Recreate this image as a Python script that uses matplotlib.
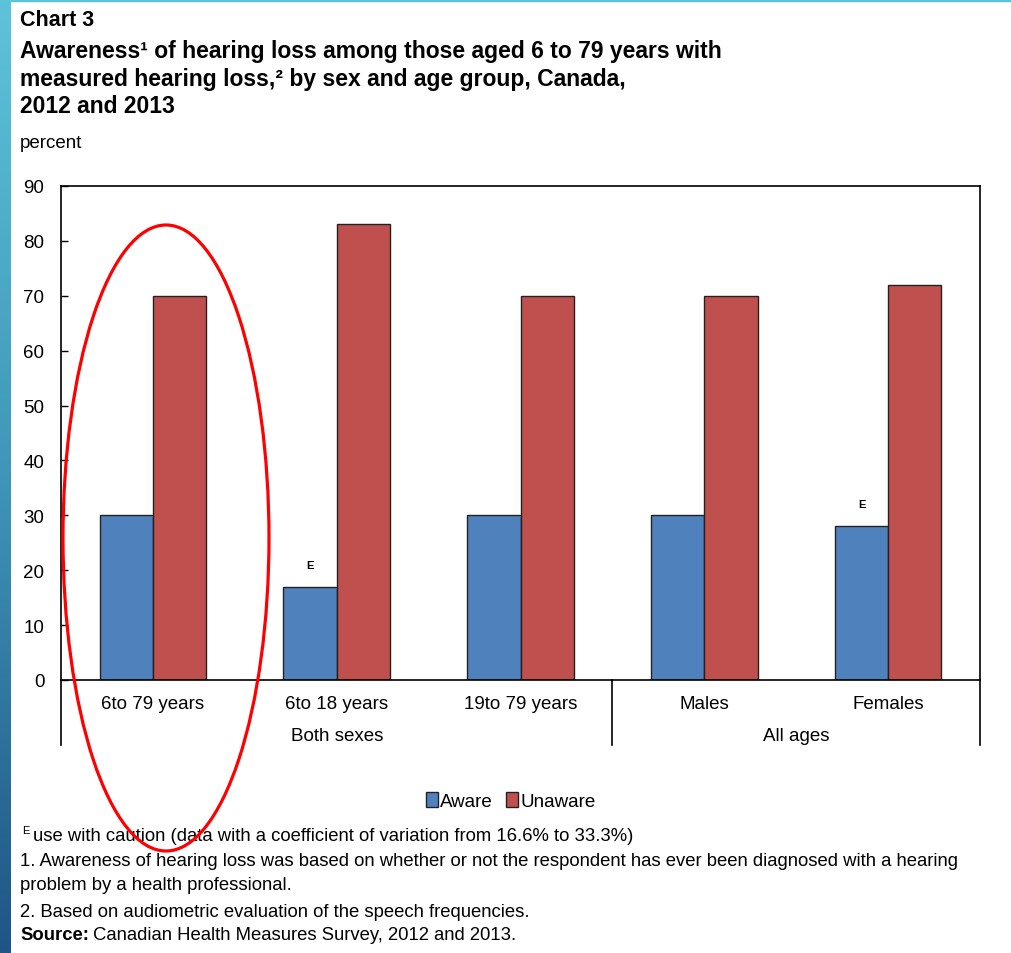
import numpy as np
import matplotlib
matplotlib.use("Agg")
import matplotlib.pyplot as plt
from matplotlib.patches import Ellipse, Patch
from matplotlib.colors import LinearSegmentedColormap

plt.rcParams['font.family'] = ['Liberation Sans', 'DejaVu Sans']

categories = ["6to 79 years", "6to 18 years", "19to 79 years", "Males", "Females"]
groups = ["Both sexes", "All ages"]
aware = [30, 17, 30, 30, 28]
unaware = [70, 83, 70, 70, 72]
flag_e = [False, True, False, False, True]
yticks = [0, 10, 20, 30, 40, 50, 60, 70, 80, 90]

blue = "#4F81BD"
red = "#C0504D"

W, H = 1011, 954
fig = plt.figure(figsize=(W / 100, H / 100), dpi=100)

# slide border strip on the left and top
strip = fig.add_axes([0, 0, 11 / W, 1])
grad = np.linspace(0, 1, 256).reshape(-1, 1)
cm = LinearSegmentedColormap.from_list("edge", ["#5CC4DA", "#3E96B8", "#1F5584"])
strip.imshow(grad, aspect="auto", cmap=cm)
strip.axis("off")
fig.patches.append(plt.Rectangle((0, 1 - 2 / H), 1, 2 / H, transform=fig.transFigure,
                                 color="#5CC4DA", zorder=0))

# titles
fig.text(20 / W, 1 - 20 / H, "Chart 3", fontsize=15.5, fontweight="bold", va="center")
title = ("Awareness\u00b9 of hearing loss among those aged 6 to 79 years with\n"
         "measured hearing loss,\u00b2 by sex and age group, Canada,\n"
         "2012 and 2013")
fig.text(20 / W, 1 - 40 / H, title, fontsize=16.5, fontweight="bold", va="top", linespacing=1.26)
fig.text(20 / W, 1 - 143 / H, "percent", fontsize=13.5, va="center")

ax = fig.add_axes([61 / W, 1 - 681 / H, 919 / W, 494 / H])
x = np.arange(len(categories))
bw = 0.29
ax.bar(x - bw / 2, aware, bw, color=blue, edgecolor="#222222", linewidth=1, label="Aware")
ax.bar(x + bw / 2, unaware, bw, color=red, edgecolor="#222222", linewidth=1, label="Unaware")

for i, f in enumerate(flag_e):
    if f:
        ax.text(x[i] - bw / 2, aware[i] + 4, "E", fontsize=8, fontweight="bold",
                ha="center", va="center")

ax.set_xlim(-0.5, len(categories) - 0.5)
ax.set_ylim(0, 90)
ax.set_yticks(yticks)
ax.tick_params(axis="y", direction="in", length=5, width=1, labelsize=13.5, pad=12)
ax.set_xticks(x)
ax.set_xticklabels(categories, fontsize=13.5)
ax.tick_params(axis="x", length=0, pad=11)
for s in ax.spines.values():
    s.set_linewidth(1.2)

# group separators below the axis
trans = ax.get_xaxis_transform()
for xv in [-0.5, 2.5, 4.5]:
    ax.plot([xv, xv], [0, -65 / 494], color="black", lw=1.2, transform=trans, clip_on=False)
ax.text(1, -56 / 494, groups[0], fontsize=13.5, ha="center", va="center", transform=trans)
ax.text(3.5, -56 / 494, groups[1], fontsize=13.5, ha="center", va="center", transform=trans)

handles = [Patch(facecolor=blue, edgecolor="#222222", label="Aware"),
           Patch(facecolor=red, edgecolor="#222222", label="Unaware")]
fig.legend(handles=handles, loc="center", bbox_to_anchor=(511 / W, 1 - 802 / H), ncol=2,
           frameon=False, fontsize=13.5, handlelength=0.6, handleheight=0.8,
           handletextpad=0.15, columnspacing=0.7)

# footnotes
fs = 13.3
fig.text(22 / W, 1 - 831 / H, "E", fontsize=8, va="center")
fig.text(33 / W, 1 - 837 / H, "use with caution (data with a coefficient of variation from 16.6% to 33.3%)",
         fontsize=fs, va="center")
fig.text(20 / W, 1 - 862 / H, "1. Awareness of hearing loss was based on whether or not the respondent has ever been diagnosed with a hearing",
         fontsize=fs, va="center")
fig.text(20 / W, 1 - 886 / H, "problem by a health professional.", fontsize=fs, va="center")
fig.text(20 / W, 1 - 913 / H, "2. Based on audiometric evaluation of the speech frequencies.", fontsize=fs, va="center")
src = fig.text(20 / W, 1 - 936 / H, "Source:", fontsize=fs, fontweight="bold", va="center")
fig.add_artist(matplotlib.text.Annotation("Canadian Health Measures Survey, 2012 and 2013.",
                                          xy=(1, 0.5), xycoords=src, xytext=(3, 0),
                                          textcoords="offset points", fontsize=fs, va="center"))

# red highlight ellipse
ell = Ellipse((166 / W, 1 - 539 / H), 206 / W, 626 / H, transform=fig.transFigure,
              fill=False, edgecolor="#FF0000", lw=2.3, zorder=10)
fig.patches.append(ell)

fig.savefig("out.png", dpi=100)
